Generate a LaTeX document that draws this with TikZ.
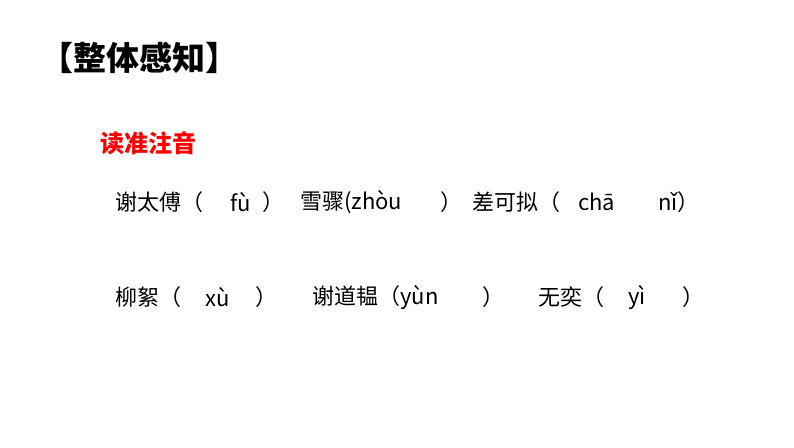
\documentclass[tikz,border=0pt]{standalone}
\usepackage{fontspec}
\setmainfont{Noto Sans CJK SC}
\begin{document}
\begin{tikzpicture}[x=1pt,y=-1pt,
	txt/.style={anchor=west,inner sep=0pt,font=\fontsize{22}{26}\selectfont}]
	\useasboundingbox (0,0) rectangle (794,447);
	
	\node[anchor=west,inner sep=0pt,font=\fontsize{33}{38}\selectfont\bfseries] (title) at (40,58) {【整体感知】};
	\node[anchor=west,inner sep=0pt,text=red,font=\fontsize{24}{28}\selectfont\bfseries] (head) at (100,143) {读准注音};
	
	% first line
	\foreach \x/\t [count=\i] in {115/谢太傅（,230/fù,262/）,300/雪骤(zhòu,440/）,472/差可拟（,578/chā,658/nǐ）}
	{
		\node[txt] (a\i) at (\x,202) {\t};
	}
	% second line
	\foreach \x/\t [count=\i] in {115/柳絮（,205/xù,255/）,312/谢道韫（yùn,482/）,538/无奕（,628/yì,682/）}
	{
		\node[txt] (b\i) at (\x,297) {\t};
	}
\end{tikzpicture}
\end{document}
